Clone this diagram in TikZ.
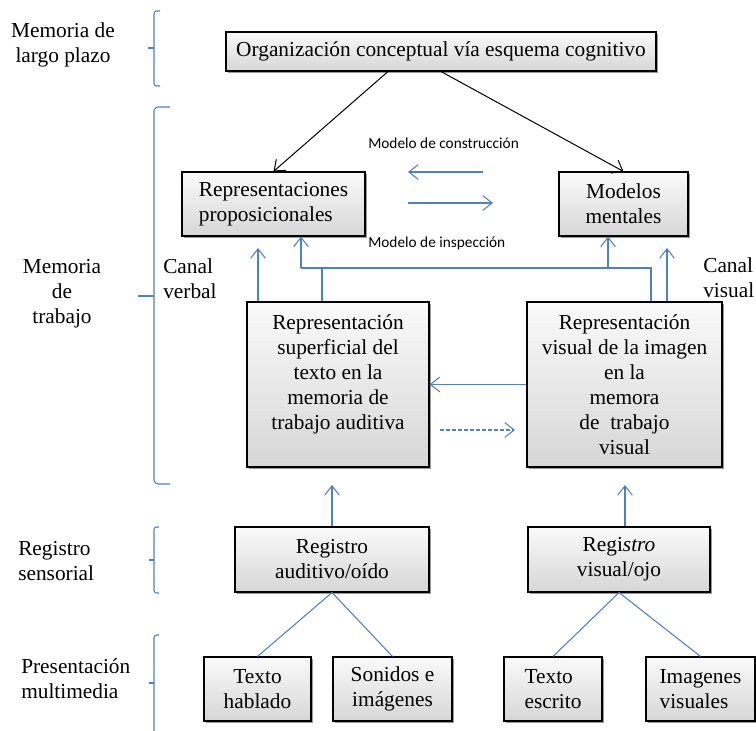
\documentclass[tikz,border=0pt]{standalone}
\usepackage{fontspec}
\setmainfont{Liberation Serif}
\newfontfamily\smallsans{Carlito}
\usetikzlibrary{arrows.meta,shadows,calc}
\definecolor{bluec}{HTML}{4F81BD}
\newcommand{\mainsize}{\fontsize{16pt}{18.75pt}\selectfont}
\begin{document}
\begin{tikzpicture}[x=0.75pt,y=-0.75pt,
  bx/.style={draw=black, line width=0.8pt, top color=gray!4, bottom color=gray!32,
    inner sep=0pt, align=center, font=\mainsize,
    drop shadow={shadow xshift=1.5pt, shadow yshift=-1.5pt, opacity=0.4, fill=black}},
  bl/.style={draw=bluec, line width=0.8pt},
  blk/.style={draw=black, line width=0.75pt},
  arr/.style={-{Straight Barb[length=7pt,width=11pt]}},
  lbl/.style={font=\mainsize, inner sep=0pt},
  smalllbl/.style={font=\smallsans\fontsize{11.5pt}{13pt}\selectfont, inner sep=0pt}]
\useasboundingbox (0,0) rectangle (756,731);

% boxes
\node[bx, minimum width=322.5pt, minimum height=29.25pt] (top) at (441,51.5) {Organización conceptual vía esquema cognitivo};
\node[bx, align=left, minimum width=137.25pt, minimum height=48pt] (rep) at (273.5,204) {Representaciones\\proposicionales};
\node[bx, minimum width=96.75pt, minimum height=48pt] (mod) at (623.5,204) {Modelos\\mentales};
\node[bx, minimum width=136.5pt, minimum height=123.75pt] (lbig) at (338,384.5) {Representación\\superficial del\\texto en la\\memoria de\\trabajo auditiva\\\mbox{}};
\node[bx, minimum width=146.25pt, minimum height=123.75pt] (rbig) at (624.5,384.5) {Representación\\visual de la imagen\\en la\\memora\\de\ \ trabajo\\visual};
\node[bx, minimum width=145.5pt, minimum height=48.75pt] (rega) at (332,559.5) {Registro\\auditivo/oído};
\node[bx, minimum width=136.5pt, minimum height=48.75pt] (regv) at (619,559.5) {Regi\textit{stro}\\visual/ojo};
\node[bx, minimum width=80.25pt, minimum height=48pt] (th) at (257.5,689) {Texto\\hablado};
\node[bx, minimum width=89.25pt, minimum height=48pt] (si) at (392.5,689) {Sonidos e\\imágenes};
\node[bx, align=left, minimum width=73.5pt, minimum height=48pt] (te) at (553,689) {Texto\\escrito};
\node[bx, align=left, minimum width=81.75pt, minimum height=48pt] (im) at (700.5,689) {Imagenes\\visuales};

% left labels
\node[lbl, align=center] (l1) at (63,44.5) {Memoria de\\largo plazo};
\node[lbl, align=center] (l2) at (62,294) {Memoria\\de\\trabajo};
\node[lbl, align=left, anchor=west] (cv) at (163,279) {Canal\\verbal};
\node[lbl, align=left, anchor=west] (cvi) at (703,278) {Canal\\visual};
\node[lbl, align=left, anchor=west] (l3) at (18,561) {Registro\\sensorial};
\node[lbl, align=left, anchor=west] (l4) at (21,679) {Presentación\\multimedia};

% small labels
\node[smalllbl, anchor=base west] (mc) at (368,149) {Modelo de construcción};
\node[smalllbl, anchor=base west] (mi) at (368,247) {Modelo de inspección};

% brackets
\draw[bl, rounded corners=2pt] (160,11) -- (154,11) -- (154,86) -- (160,86);
\draw[bl] (154,48) -- (148,48);
\draw[bl, rounded corners=3pt] (170,107) -- (154,107) -- (154,484) -- (170,484);
\draw[bl] (154,296) -- (138,296);
\draw[bl, rounded corners=2pt] (159,527) -- (154,527) -- (154,593) -- (159,593);
\draw[bl] (154,560) -- (149,560);
\draw[bl, rounded corners=2pt] (159,635) -- (154,635) -- (154,740);
\draw[bl] (154,683) -- (149,683);

% black connectors from top
\draw[blk,arr] ($(top.south)+(-53,0)$) -- (rep.north);
\draw[blk,arr] (top.south) -- (mod.north);

% model arrows
\coordinate (c1) at (483,172); \coordinate (c2) at (408,172);
\draw[bl,arr] (c1) -- (c2);
\coordinate (c3) at (408,203); \coordinate (c4) at (493,203);
\draw[bl,arr] (c3) -- (c4);

% upward arrows from working memory boxes
\coordinate (u1) at (258,248);
\draw[bl,arr] (lbig.north -| u1) -- (u1);
\coordinate (u2) at (667,248);
\draw[bl,arr] (rbig.north -| u2) -- (u2);
\coordinate (bus) at (301,268);
\coordinate (v1) at (322,268);
\coordinate (v2) at (651,268);
\coordinate (v3) at (608,268);
\draw[bl] (lbig.north -| v1) -- (v1);
\draw[bl] (rbig.north -| v2) -- (v2) -- (bus);
\draw[bl,arr] (bus) -- (rep.south -| bus);
\draw[bl,arr] (v3) -- (mod.south -| v3);

% middle arrows
\draw[bl,arr] (rbig.west) -- (lbig.east);
\coordinate (d1) at (440,430); \coordinate (d2) at (515,430);
\draw[bl,arr,dash pattern=on 3pt off 1.5pt] (d1) -- (d2);

% up from sensory registers
\coordinate (ra) at (332,485);
\draw[bl,arr] (rega.north) -- (ra);
\coordinate (rv) at (625,485);
\draw[bl,arr] (regv.north -| rv) -- (rv);

% tree lines
\draw[bl] (rega.south) -- (th.north);
\draw[bl] (rega.south) -- (si.north);
\draw[bl] (regv.south) -- (te.north);
\draw[bl] (regv.south) -- (im.north);
\end{tikzpicture}
\end{document}
